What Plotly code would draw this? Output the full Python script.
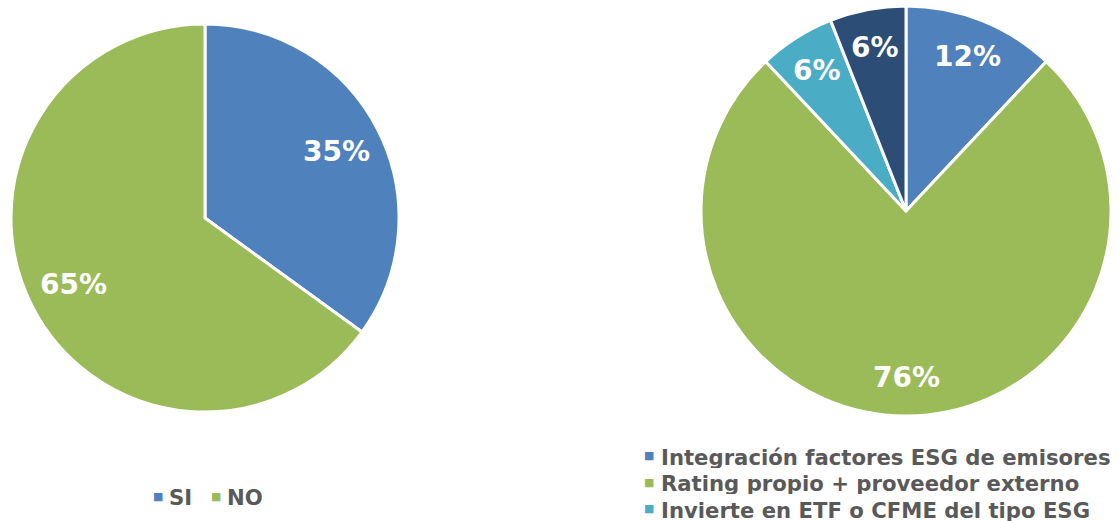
import math
import plotly.graph_objects as go

left_labels = ["SI", "NO"]
left_values = [35, 65]
left_colors = ["#4F81BD", "#9BBB59"]

right_labels = ["Integración factores ESG de emisores",
                "Rating propio + proveedor externo",
                "Invierte en ETF o CFME del tipo ESG",
                "Otros"]
right_values = [12, 76, 6, 6]
right_colors = ["#4F81BD", "#9BBB59", "#4BACC6", "#2C4D75"]

W, H = 1118, 521
FONT = "DejaVu Sans"
LEGEND_COLOR = "#595959"

# pie boxes in pixels (left, top, right, bottom)
left_box = (11, 24, 399, 412)
right_box = (701, 6, 1111, 416)


def domain(box):
    l, t, r, b = box
    return dict(x=[l / W, r / W], y=[(H - b) / H, (H - t) / H])


def label_annotations(values, box, frac):
    l, t, r, b = box
    cx, cy = (l + r) / 2, (t + b) / 2
    rad = min(r - l, b - t) / 2
    total = sum(values)
    anns = []
    cum = 0
    for v in values:
        mid = (cum + v / 2) / total * 2 * math.pi
        cum += v
        px = cx + frac * rad * math.sin(mid)
        py = cy - frac * rad * math.cos(mid)
        anns.append(dict(x=px / W, y=(H - py) / H, xref="paper", yref="paper",
                         text=f"{v}%", showarrow=False, xanchor="center", yanchor="middle",
                         font=dict(family=FONT, size=28, color="white", weight="bold")))
    return anns


def legend_item(label, color, sx, y):
    """square marker centred at (sx, y) px, text starting just to the right"""
    return [
        dict(x=sx / W, y=(H - y) / H, xref="paper", yref="paper", text="■",
             showarrow=False, xanchor="center", yanchor="middle",
             font=dict(family=FONT, size=11, color=color)),
        dict(x=(sx + 10) / W, y=(H - y - 1) / H, xref="paper", yref="paper", text=label,
             showarrow=False, xanchor="left", yanchor="middle", height=22, borderpad=0,
             font=dict(family=FONT, size=21.2, color=LEGEND_COLOR, weight="bold")),
    ]


fig = go.Figure()
fig.add_trace(go.Pie(
    labels=left_labels, values=left_values, sort=False, direction="clockwise", rotation=0,
    marker=dict(colors=left_colors, line=dict(color="white", width=3)),
    textinfo="none", domain=domain(left_box), showlegend=False,
    hoverinfo="label+percent",
))
fig.add_trace(go.Pie(
    labels=right_labels, values=right_values, sort=False, direction="clockwise", rotation=0,
    marker=dict(colors=right_colors, line=dict(color="white", width=3)),
    textinfo="none", domain=domain(right_box), showlegend=False,
    hoverinfo="label+percent",
))

annotations = label_annotations(left_values, left_box, 0.76) + \
    label_annotations(right_values, right_box, 0.81)

# left legend: horizontal row
left_marker_x = [158, 215.5]
for lab, col, sx in zip(left_labels, left_colors, left_marker_x):
    annotations += legend_item(lab, col, sx, 496)

# right legend: vertical list (only the rows that fit in the picture are shown)
right_row_y = [455.5, 482, 508.5]
for lab, col, y in zip(right_labels, right_colors, right_row_y):
    annotations += legend_item(lab, col, 649.5, y)

fig.update_layout(
    width=W, height=H, margin=dict(l=0, r=0, t=0, b=0, autoexpand=False),
    paper_bgcolor="white", plot_bgcolor="white",
    font=dict(family=FONT, color=LEGEND_COLOR),
    annotations=annotations,
    showlegend=False,
)

fig.write_html("out.html")
